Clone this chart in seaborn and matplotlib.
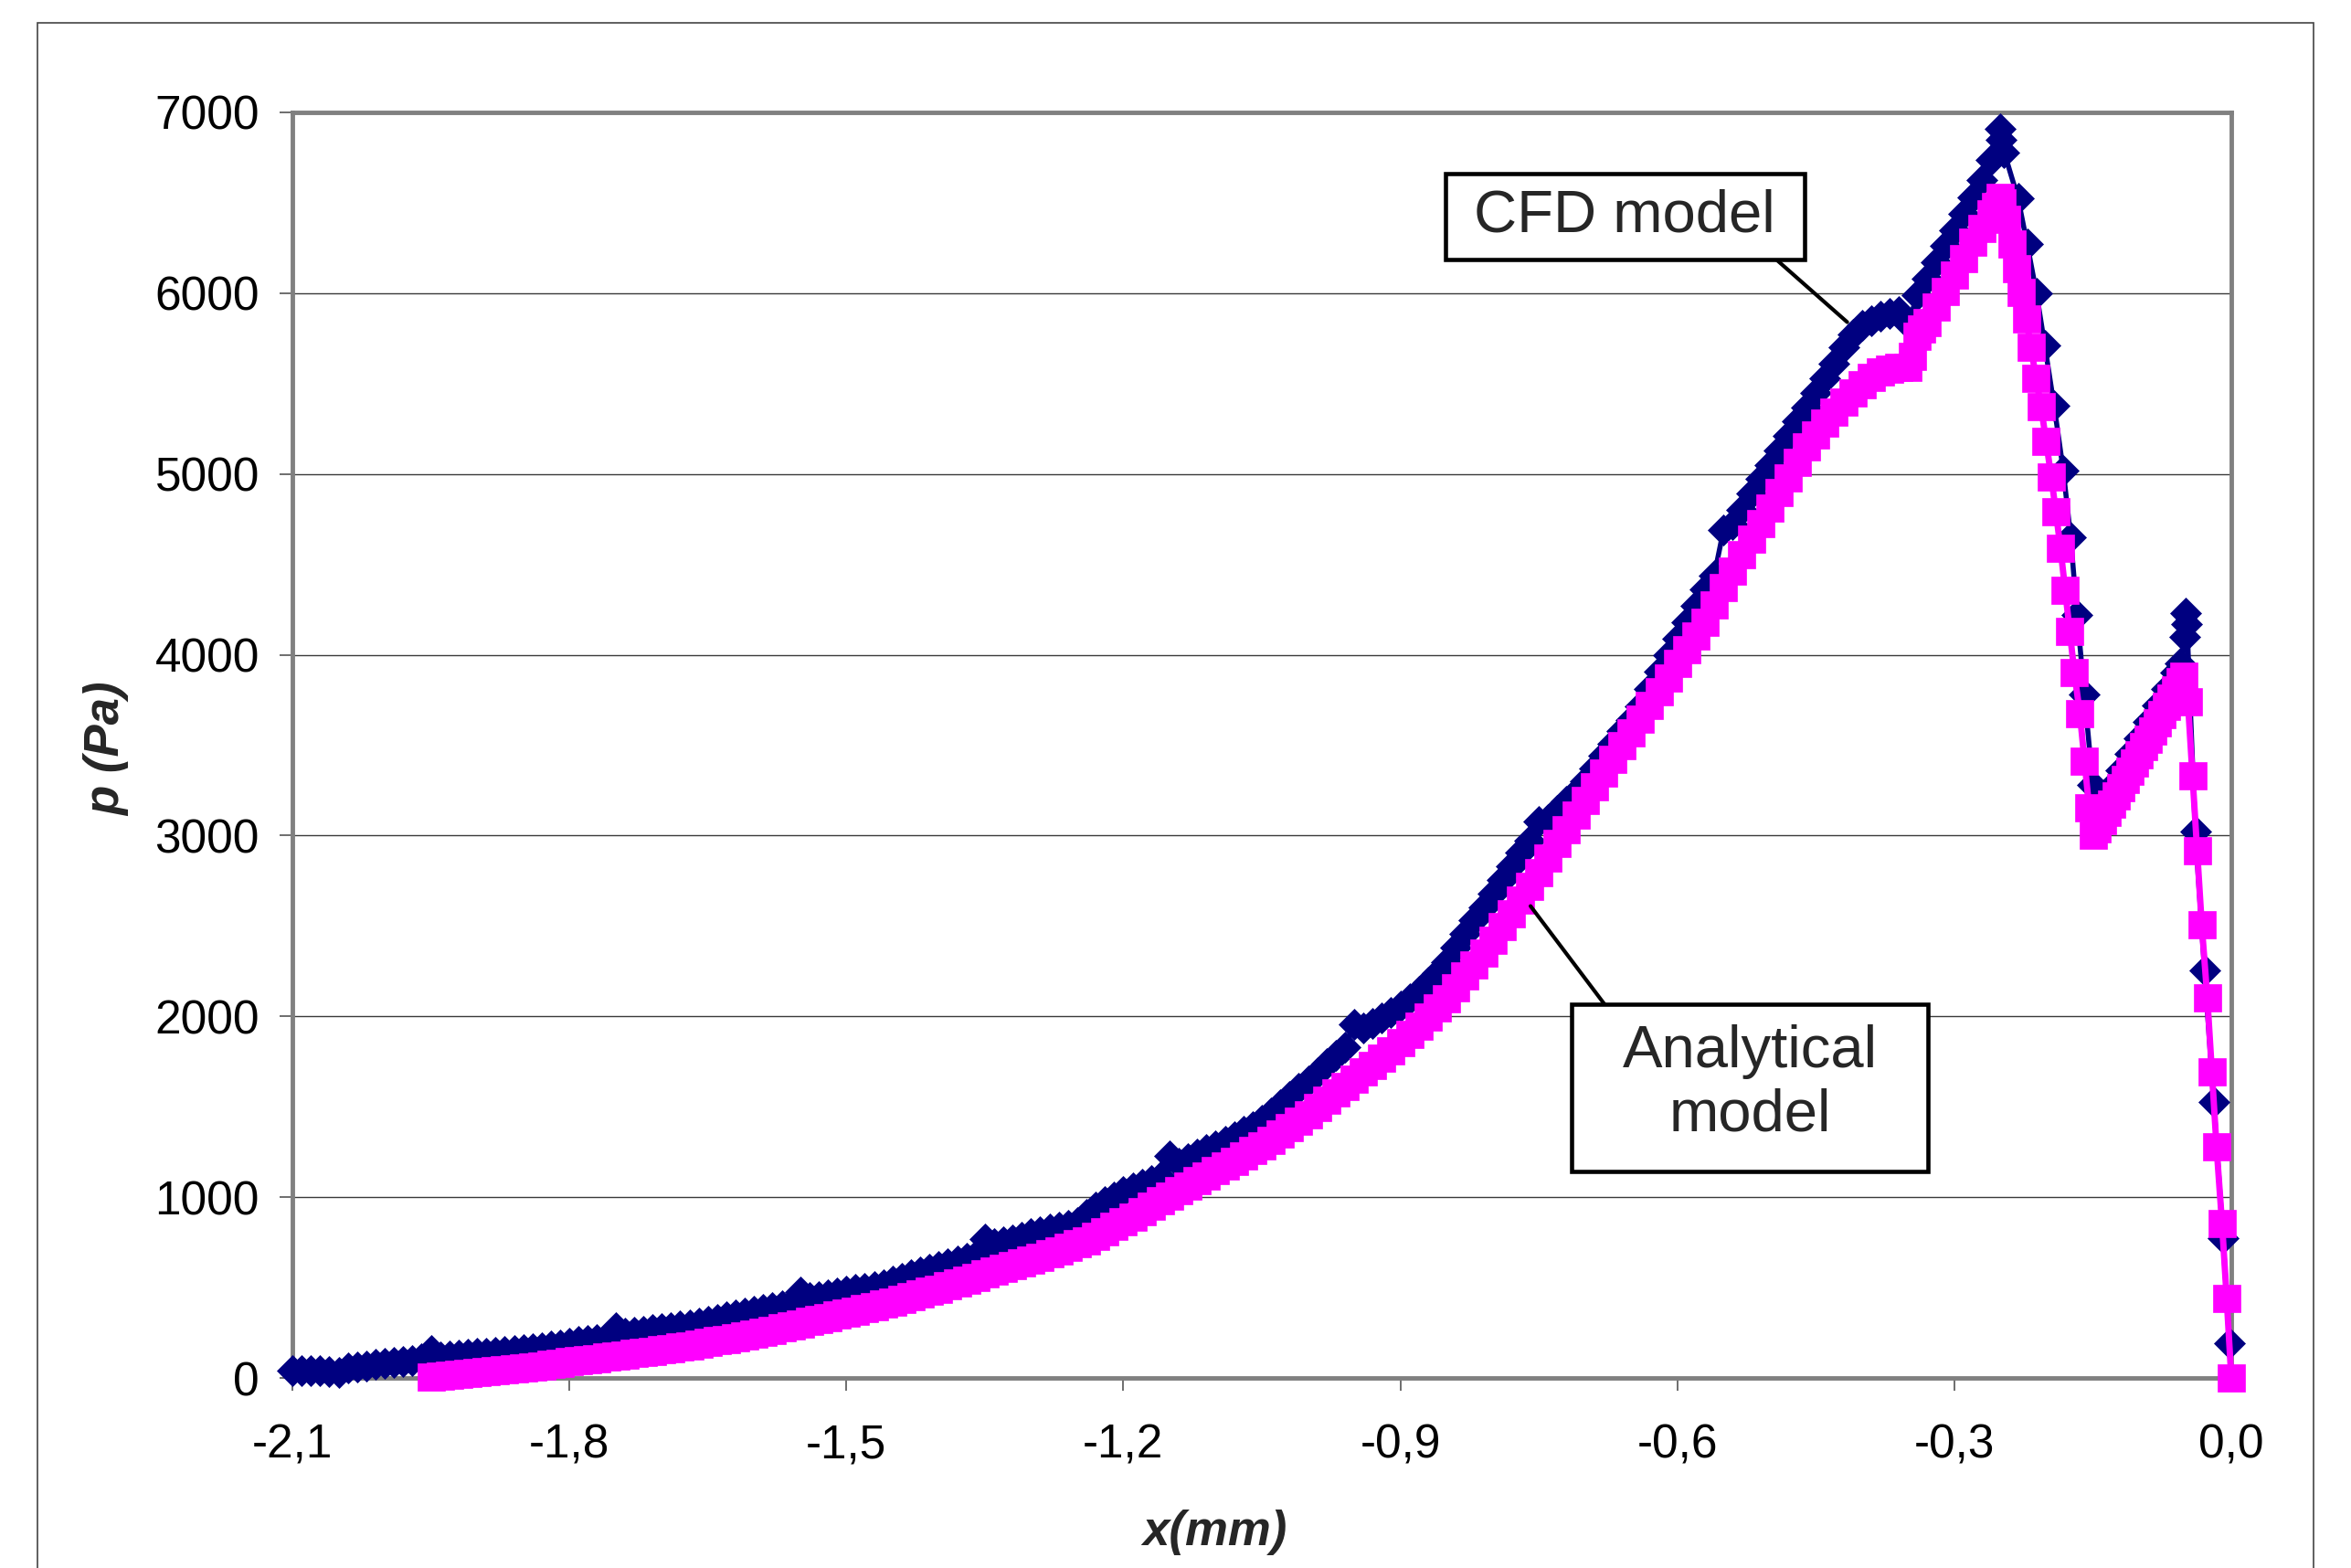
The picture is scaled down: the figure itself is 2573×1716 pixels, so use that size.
import matplotlib
matplotlib.use("Agg")
import matplotlib.pyplot as plt
import numpy as np
import pandas as pd
import seaborn as sns
from matplotlib.patches import Rectangle

# CFD model, read every 0.01 mm from -2.10 to -0.26 mm (Pa)
cfd_grid_p = [
    40, 42, 42, 40, 35, 30, 55, 62, 68, 74,              # -2.10 .. -2.01
    80, 86, 92, 98, 104, 150, 118, 122, 126, 130,        # -2.00 .. -1.91
    134, 138, 142, 146, 150, 156, 162, 168, 176, 184,    # -1.90 .. -1.81
    192, 200, 207, 214, 220, 280, 248, 254, 260, 266,    # -1.80 .. -1.71
    272, 280, 287, 294, 303, 313, 325, 337, 348, 360,    # -1.70 .. -1.61
    371, 381, 391, 400, 410, 475, 445, 452, 460, 470,    # -1.60 .. -1.51
    480, 488, 496, 504, 518, 535, 552, 570, 585, 600,    # -1.50 .. -1.41
    617, 632, 648, 663, 678, 770, 745, 752, 765, 778,    # -1.40 .. -1.31
    797, 810, 823, 836, 845, 860, 905, 945, 975, 1000,   # -1.30 .. -1.21
    1030, 1050, 1070, 1092, 1110, 1227, 1190, 1215, 1240, 1262,  # -1.20 .. -1.11
    1285, 1310, 1335, 1364, 1392, 1425, 1468, 1510, 1555, 1600,  # -1.10 .. -1.01
    1645, 1690, 1738, 1785, 1830, 1955, 1934, 1960, 1990, 2020,  # -1.00 .. -0.91
    2055, 2095, 2140, 2190, 2240, 2300, 2380, 2455, 2530, 2605,  # -0.90 .. -0.81
    2680, 2755, 2830, 2905, 2970, 3080, 3090, 3140, 3190, 3240,  # -0.80 .. -0.71
    3300, 3370, 3440, 3510, 3580, 3640, 3715, 3810, 3905, 4000,  # -0.70 .. -0.61
    4090, 4180, 4270, 4360, 4440, 4690, 4720, 4800, 4890, 4975,  # -0.60 .. -0.51
    5050, 5130, 5210, 5290, 5370, 5450, 5530, 5610, 5700, 5770,  # -0.50 .. -0.41
    5820, 5850, 5875, 5890, 5900, 5830, 5990, 6080, 6170, 6260,  # -0.40 .. -0.31
    6350, 6440, 6530, 6625, 6735,                                # -0.30 .. -0.26
]
cfd_grid_x = np.round(np.linspace(-2.10, -0.26, len(cfd_grid_p)), 3)

# CFD model, peak and right-hand part
cfd_tail_x = [-0.250, -0.249, -0.246, -0.231, -0.221, -0.211, -0.202, -0.192,
              -0.182, -0.174, -0.167, -0.159, -0.150, -0.145, -0.140, -0.130,
              -0.120, -0.110, -0.100, -0.090, -0.080, -0.070, -0.060, -0.055,
              -0.050, -0.049, -0.048, -0.039, -0.029, -0.019, -0.009, -0.002]
cfd_tail_p = [6910, 6850, 6780, 6525, 6270, 6000, 5710, 5380,
              5020, 4650, 4220, 3780, 3280, 3120, 3180, 3270,
              3360, 3450, 3540, 3630, 3720, 3810, 3900, 3950,
              4100, 4230, 4170, 3020, 2255, 1525, 775, 190]

# Analytical model, read every 0.01 mm from -1.95 to -0.35 mm (Pa)
ana_grid_p = [
    5, 9, 14, 19, 24, 29, 34, 39, 44, 50,                # -1.95 .. -1.86
    56, 62, 68, 75, 82, 89, 95, 101, 107, 114,           # -1.85 .. -1.76
    120, 127, 134, 141, 148, 156, 164, 171, 179, 187,    # -1.75 .. -1.66
    196, 205, 214, 223, 232, 241, 252, 264, 276, 288,    # -1.65 .. -1.56
    300, 312, 324, 335, 347, 358, 370, 382, 395, 408,    # -1.55 .. -1.46
    422, 436, 450, 464, 478, 492, 508, 525, 542, 558,    # -1.45 .. -1.36
    575, 590, 605, 620, 635, 650, 667, 685, 703, 722,    # -1.35 .. -1.26
    741, 760, 785, 810, 837, 864, 892, 921, 950, 978,    # -1.25 .. -1.16
    1006, 1034, 1062, 1090, 1118, 1145, 1172, 1200, 1228, 1257,  # -1.15 .. -1.06
    1286, 1315, 1350, 1385, 1421, 1458, 1495, 1535, 1575, 1613,  # -1.05 .. -0.96
    1652, 1691, 1730, 1770, 1810, 1855, 1901, 1948, 1996, 2046,  # -0.95 .. -0.86
    2100, 2160, 2222, 2285, 2350, 2422, 2496, 2570, 2645, 2720,  # -0.85 .. -0.76
    2795, 2875, 2955, 3035, 3115, 3195, 3270, 3345, 3420, 3495,  # -0.75 .. -0.66
    3570, 3645, 3720, 3797, 3873, 3950, 4027, 4103, 4180, 4275,  # -0.65 .. -0.56
    4370, 4462, 4555, 4640, 4725, 4810, 4895, 4980, 5065, 5150,  # -0.55 .. -0.46
    5215, 5280, 5340, 5400, 5450, 5495, 5535, 5565, 5580, 5588,  # -0.45 .. -0.36
    5590,                                                        # -0.35
]
ana_grid_x = np.round(np.linspace(-1.95, -0.35, len(ana_grid_p)), 3)

# Analytical model, peak and right-hand part
ana_tail_x = [-0.345, -0.340, -0.335, -0.330, -0.320, -0.310, -0.300, -0.290,
              -0.280, -0.270, -0.260, -0.255, -0.250, -0.248, -0.243, -0.238,
              -0.233, -0.228, -0.222, -0.217, -0.2115, -0.206, -0.2005, -0.195,
              -0.190, -0.185, -0.180, -0.175, -0.170, -0.164, -0.159, -0.154,
              -0.149, -0.145, -0.140, -0.135, -0.130, -0.125, -0.120, -0.115,
              -0.110, -0.105, -0.100, -0.095, -0.090, -0.085, -0.080, -0.075,
              -0.070, -0.065, -0.060, -0.055, -0.051, -0.047, -0.042, -0.037,
              -0.032, -0.026, -0.021, -0.016, -0.010, -0.005, 0.000]
ana_tail_p = [5650, 5760, 5800, 5840, 5925, 6010, 6100, 6190,
              6280, 6360, 6440, 6480, 6530, 6500, 6407, 6272,
              6138, 6003, 5860, 5700, 5531, 5371, 5178, 4984,
              4790, 4590, 4359, 4131, 3902, 3673, 3414, 3155,
              3003, 3040, 3085, 3130, 3175, 3220, 3265, 3310,
              3355, 3400, 3445, 3490, 3535, 3580, 3625, 3670,
              3715, 3760, 3805, 3850, 3880, 3740, 3329, 2917,
              2505, 2103, 1691, 1279, 852, 441, 0]

x_ticks = [-2.1, -1.8, -1.5, -1.2, -0.9, -0.6, -0.3, 0.0]
x_tick_labels = ["-2,1", "-1,8", "-1,5", "-1,2", "-0,9", "-0,6", "-0,3", "0,0"]
y_ticks = [0, 1000, 2000, 3000, 4000, 5000, 6000, 7000]

W, H = 2573, 1716


def fx(px):
    return px / W


def fy(py):
    # pixel rows are counted from the top of the picture
    return 1 - py / H


sns.set_theme(style="white")
plt.rcParams["font.family"] = ["Liberation Sans", "DejaVu Sans"]

fig = plt.figure(figsize=(W / 100, H / 100), dpi=100)
ax = fig.add_axes([fx(320), fy(1508), fx(2442) - fx(320), fy(123) - fy(1508)])

cfd = pd.DataFrame({"x": np.concatenate([cfd_grid_x, cfd_tail_x]),
                    "p": np.concatenate([cfd_grid_p, cfd_tail_p])})
ana = pd.DataFrame({"x": np.concatenate([ana_grid_x, ana_tail_x]),
                    "p": np.concatenate([ana_grid_p, ana_tail_p])})

sns.lineplot(data=cfd, x="x", y="p", ax=ax, sort=False, estimator=None,
             color="#000080", linewidth=4, marker="D", markersize=17,
             markeredgecolor="#000080", markeredgewidth=0.5, clip_on=False, zorder=3)
sns.lineplot(data=ana, x="x", y="p", ax=ax, sort=False, estimator=None,
             color="#FF00FF", linewidth=5, marker="s", markersize=22,
             markeredgecolor="#FF00FF", markeredgewidth=0.5, clip_on=False, zorder=4)

ax.set_xlim(-2.1, 0.0)
ax.set_ylim(0, 7000)
ax.set_xticks(x_ticks)
ax.set_xticklabels(x_tick_labels)
ax.set_yticks(y_ticks)
ax.set_xlabel("")
ax.set_ylabel("")

# horizontal grid only
ax.grid(axis="y", color="#3a3a3a", linewidth=1.0)
ax.grid(axis="x", visible=False)
ax.set_axisbelow(True)

for s in ax.spines.values():
    s.set_color("#808080")
    s.set_linewidth(3.5)

ax.tick_params(axis="both", bottom=True, left=True, direction="out",
               length=10, width=1.2, color="#555555", labelsize=37,
               labelcolor="black")
ax.tick_params(axis="y", pad=16)
ax.tick_params(axis="x", pad=26)

fig.text(fx(1329), fy(1677), "x(mm)", ha="center", va="center",
         fontsize=38, fontweight="bold", fontstyle="italic")
fig.text(fx(117), fy(820), "p (Pa)", ha="center", va="center", rotation=90,
         fontsize=38, fontweight="bold", fontstyle="italic")

# callout boxes with connector lines
fig.add_artist(Rectangle((fx(1582), fy(284)), fx(1975) - fx(1582), fy(190) - fy(284),
                         transform=fig.transFigure, facecolor="white",
                         edgecolor="black", linewidth=3.3, zorder=10))
fig.text(fx(1778), fy(236), "CFD model", ha="center", va="center",
         fontsize=47, zorder=11)
ax.annotate("", xy=(-0.416, 5840), xycoords="data",
            xytext=(fx(1944), fy(284)), textcoords="figure fraction",
            arrowprops=dict(arrowstyle="-", color="black", lw=3,
                            shrinkA=0, shrinkB=0), zorder=9)

fig.add_artist(Rectangle((fx(1720), fy(1282)), fx(2110) - fx(1720), fy(1099) - fy(1282),
                         transform=fig.transFigure, facecolor="white",
                         edgecolor="black", linewidth=3.3, zorder=10))
fig.text(fx(1915), fy(1186), "Analytical\nmodel", ha="center", va="center",
         fontsize=47, linespacing=1.2, zorder=11)
ax.annotate("", xy=(-0.759, 2610), xycoords="data",
            xytext=(fx(1756), fy(1099)), textcoords="figure fraction",
            arrowprops=dict(arrowstyle="-", color="black", lw=3,
                            shrinkA=0, shrinkB=0), zorder=9)

# outer chart frame (bottom edge runs off the picture)
fig.add_artist(Rectangle((fx(41), -0.05), fx(2532) - fx(41), fy(25) + 0.05,
                         transform=fig.transFigure, fill=False,
                         edgecolor="#444444", linewidth=1.2))

fig.savefig("out.png", dpi=100)
